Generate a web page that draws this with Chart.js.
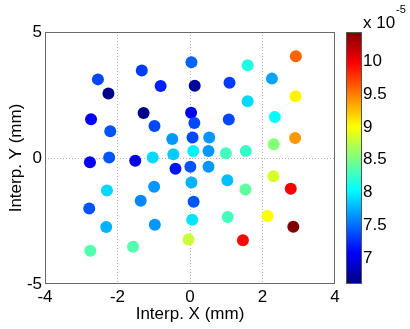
<!DOCTYPE html>
<html>
<head>
<meta charset="utf-8">
<script src="https://cdn.jsdelivr.net/npm/chart.js@4/dist/chart.umd.min.js"></script>
<style>
  html, body { margin: 0; padding: 0; background: #fff; }
  #wrap { width: 410px; height: 329px; }
</style>
</head>
<body>
<div id="wrap"><canvas id="scatter" width="410" height="329"></canvas></div>
<script>
// point positions (mm) and measured value (x 1e-5)
const xs = [2.92, 0.04, 1.59, -1.33, -2.54, 2.26, 1.09, -0.81, 0.13, -2.25,
            2.91, 1.59, -1.28, 0.03, -2.73, 2.34, 1.07, 0.12, -0.98, -2.20,
            -0.49, 0.07, 0.53, 2.90, 2.31, 0.09, 1.54, 0.99, 0.51, -0.46,
            -1.03, -2.23, -2.76, -1.51, -0.40, 0.01, 0.51, 2.30, 1.03, 0.04,
            2.78, 1.53, -0.99, -2.29, -1.36, 0.10, -2.78, 2.14, 1.04, 0.06,
            -0.97, -2.31, 2.85, -0.04, 1.46, -1.57, -2.75];
const ys = [4.04, 3.80, 3.68, 3.47, 3.12, 3.15, 2.99, 2.86, 2.87, 2.56,
            2.45, 2.25, 1.79, 1.80, 1.54, 1.63, 1.53, 1.39, 1.27, 1.06,
            0.75, 0.81, 0.81, 0.79, 0.55, 0.28, 0.28, 0.19, 0.28, 0.15,
            0.02, 0.02, -0.17, -0.11, -0.43, -0.35, -0.35, -0.72, -0.88, -0.97,
            -1.22, -1.25, -1.14, -1.29, -1.70, -1.74, -2.00, -2.30, -2.34, -2.45,
            -2.65, -2.74, -2.73, -3.23, -3.26, -3.52, -3.68];
const vals = [9.6, 7.45, 8.15, 7.3, 7.35, 7.7, 7.3, 7.2, 6.7, 6.65,
              9.05, 7.9, 6.65, 7.05, 7.05, 8.05, 7.35, 7.35, 7.35, 7.4,
              7.65, 7.35, 7.65, 9.4, 8.55, 8.0, 8.25, 8.3, 7.65, 7.85,
              7.9, 7.4, 7.05, 7.0, 7.15, 7.4, 7.65, 8.85, 7.8, 7.75,
              10.0, 8.4, 7.65, 7.9, 7.6, 7.4, 7.4, 9.0, 8.3, 7.95,
              7.65, 7.75, 10.45, 8.8, 9.95, 8.35, 8.35];

const xTicks = [-4, -2, 0, 2, 4];
const yTicks = [-5, 0, 5];
const cbTicks = [7, 7.5, 8, 8.5, 9, 9.5, 10];
const cMin = 6.6, cMax = 10.45;

const FONT = "'Liberation Sans', Arial, sans-serif";

function jet(v) {
  let t = (v - cMin) / (cMax - cMin);
  t = Math.max(0, Math.min(1, t));
  const c = d => Math.round(255 * Math.max(0, Math.min(1, 1.5 - Math.abs(4 * t - d))));
  return 'rgb(' + c(3) + ',' + c(2) + ',' + c(1) + ')';
}

const points = xs.map((x, i) => ({x: x, y: ys[i]}));

const boxAndBar = {
  id: 'boxAndBar',
  beforeDatasetsDraw(chart) {
    const ctx = chart.ctx, a = chart.chartArea;
    ctx.save();
    ctx.strokeStyle = '#6a6a6a';
    ctx.lineWidth = 1;
    ctx.strokeRect(a.left + 0.5, a.top + 0.5, a.right - a.left - 1, a.bottom - a.top - 1);
    ctx.restore();
  },
  afterDraw(chart) {
    const ctx = chart.ctx, cb = chart.scales.cb;
    const top = cb.getPixelForValue(cMax), bot = cb.getPixelForValue(cMin);
    const g = ctx.createLinearGradient(0, bot, 0, top);
    for (let i = 0; i <= 40; i++) {
      g.addColorStop(i / 40, jet(cMin + (cMax - cMin) * i / 40));
    }
    ctx.save();
    ctx.fillStyle = g;
    ctx.fillRect(346, top, 16, bot - top);
    ctx.strokeStyle = '#555';
    ctx.lineWidth = 1;
    ctx.strokeRect(346.5, top + 0.5, 15, bot - top - 1);
    ctx.fillStyle = '#000';
    ctx.textBaseline = 'alphabetic';
    ctx.font = '17px ' + FONT;
    ctx.fillText('x 10', 363, 28);
    ctx.font = '11px ' + FONT;
    ctx.fillText('-5', 396, 13);
    ctx.restore();
  }
};

new Chart('scatter', {
  type: 'scatter',
  data: {
    datasets: [{
      data: points,
      pointRadius: 6,
      pointHoverRadius: 6,
      pointBorderWidth: 0,
      backgroundColor: ctx => jet(vals[ctx.dataIndex]),
      borderColor: ctx => jet(vals[ctx.dataIndex])
    }]
  },
  options: {
    responsive: false,
    animation: false,
    events: [],
    layout: {padding: {top: 32, left: 0, right: 0, bottom: 0}},
    plugins: {legend: {display: false}, tooltip: {enabled: false}},
    scales: {
      x: {
        type: 'linear', min: -4, max: 4,
        afterBuildTicks: s => { s.ticks = xTicks.map(v => ({value: v})); },
        afterFit: s => { s.height = 45; },
        grid: {
          drawTicks: false,
          color: c => (c.tick && Math.abs(c.tick.value) < 4) ? '#b4b4b4' : 'rgba(0,0,0,0)'
        },
        border: {display: false, dash: [1, 2]},
        ticks: {color: '#000', font: {family: FONT, size: 17}, padding: 3, callback: v => String(v)},
        title: {display: true, text: 'Interp. X (mm)', color: '#000',
                font: {family: FONT, size: 17}, padding: {top: 0, bottom: 4}}
      },
      y: {
        type: 'linear', min: -5, max: 5,
        afterBuildTicks: s => { s.ticks = yTicks.map(v => ({value: v})); },
        afterFit: s => { s.width = 45; },
        grid: {
          drawTicks: false,
          color: c => (c.tick && Math.abs(c.tick.value) < 5) ? '#b4b4b4' : 'rgba(0,0,0,0)'
        },
        border: {display: false, dash: [1, 2]},
        ticks: {color: '#000', font: {family: FONT, size: 17}, padding: 3, callback: v => String(v)},
        title: {display: true, text: 'Interp. Y (mm)', color: '#000',
                font: {family: FONT, size: 17}, padding: {top: 6, bottom: 0}}
      },
      cb: {
        type: 'linear', position: 'right', min: cMin, max: cMax,
        afterBuildTicks: s => { s.ticks = cbTicks.map(v => ({value: v})); },
        afterFit: s => { s.width = 75; },
        grid: {display: true, drawOnChartArea: false, drawTicks: true, tickLength: 26,
               tickColor: 'rgba(0,0,0,0)', color: 'rgba(0,0,0,0)'},
        border: {display: false},
        ticks: {color: '#000', font: {family: FONT, size: 17}, padding: 2, callback: v => String(v)}
      }
    }
  },
  plugins: [boxAndBar]
});
</script>
</body>
</html>
